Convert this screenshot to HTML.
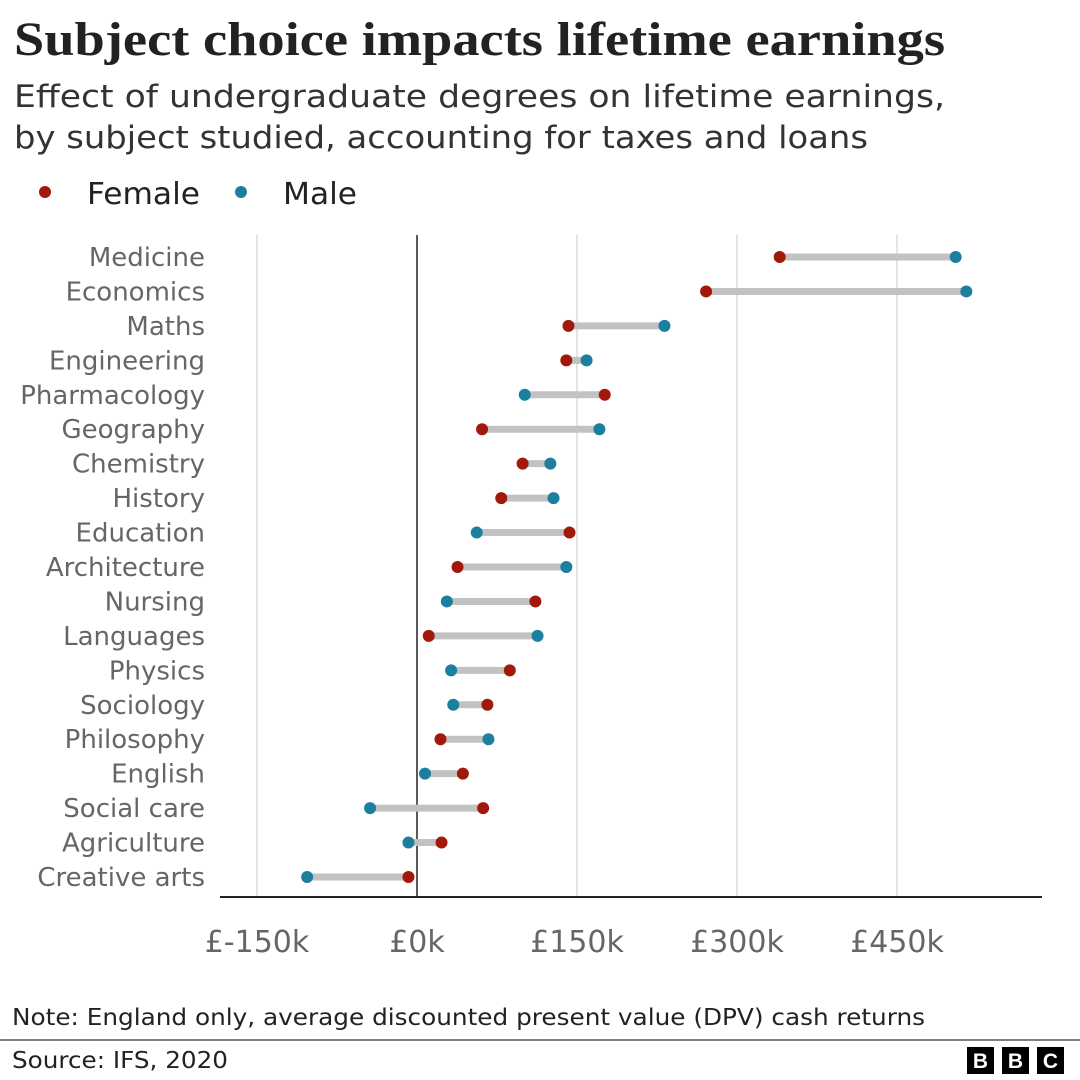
<!DOCTYPE html>
<html><head><meta charset="utf-8">
<style>
body{margin:0;width:1080px;height:1080px;background:#fff;overflow:hidden;font-family:"DejaVu Sans","Liberation Sans",sans-serif;}
svg{display:block}
</style></head>
<body>
<svg width="1080" height="1080" xmlns="http://www.w3.org/2000/svg">
<text x="14" y="55" font-family="Liberation Serif,serif" font-weight="bold" font-size="48" fill="#222" textLength="931" lengthAdjust="spacingAndGlyphs">Subject choice impacts lifetime earnings</text>
<text x="14" y="107" font-size="31" fill="#333" textLength="931" lengthAdjust="spacingAndGlyphs">Effect of undergraduate degrees on lifetime earnings,</text>
<text x="14" y="148" font-size="31" fill="#333" textLength="854" lengthAdjust="spacingAndGlyphs">by subject studied, accounting for taxes and loans</text>
<g>
<circle cx="45" cy="192" r="6" fill="#a2190b"/>
<text x="87" y="204" font-size="30" fill="#222" textLength="113" lengthAdjust="spacingAndGlyphs">Female</text>
<circle cx="241" cy="192" r="6" fill="#1c7fa0"/>
<text x="283" y="204" font-size="30" fill="#222" textLength="74" lengthAdjust="spacingAndGlyphs">Male</text>
</g>
<g id="plot"></g>
<text x="12" y="1025" font-size="23" fill="#222" textLength="913" lengthAdjust="spacingAndGlyphs">Note: England only, average discounted present value (DPV) cash returns</text>
<line x1="0" y1="1040" x2="1080" y2="1040" stroke="#555" stroke-width="1.5"/>
<text x="12" y="1068" font-size="23" fill="#222" textLength="216" lengthAdjust="spacingAndGlyphs">Source: IFS, 2020</text>
<g font-family="Liberation Sans,sans-serif" font-weight="bold" font-size="21" fill="#fff" text-anchor="middle">
<rect x="967" y="1047" width="27" height="27" fill="#000"/><text x="980.5" y="1068">B</text>
<rect x="1002" y="1047" width="27" height="27" fill="#000"/><text x="1015.5" y="1068">B</text>
<rect x="1037" y="1047" width="27" height="27" fill="#000"/><text x="1050.5" y="1068">C</text>
</g>
</svg>
<script>
const categories=["Medicine","Economics","Maths","Engineering","Pharmacology","Geography","Chemistry","History","Education","Architecture","Nursing","Languages","Physics","Sociology","Philosophy","English","Social care","Agriculture","Creative arts"];
const femaleValues=[340,271,142,140,176,61,99,79,143,38,111,11,87,66,22,43,62,23,-8];
const maleValues=[505,515,232,159,101,171,125,128,56,140,28,113,32,34,67,7.5,-44,-8,-103];
const tickValues=[-150,0,150,300,450];
const tickLabels=["£-150k","£0k","£150k","£300k","£450k"];
const NS="http://www.w3.org/2000/svg";
const g=document.getElementById('plot');
const x=v=>417+v*160/150;
const y=i=>257+i*(620/18);
function mk(t,a,p){const e=document.createElementNS(NS,t);for(const k in a)e.setAttribute(k,a[k]);(p||g).appendChild(e);return e;}
tickValues.forEach((v,i)=>{
 if(v!==0){const l=mk('line',{x1:x(v),x2:x(v),y1:235,y2:897,stroke:'#c8c8c8','stroke-width':1});
 
 }
 const t=mk('text',{x:x(v),y:952,'text-anchor':'middle','font-size':30,fill:'#666'});t.textContent=tickLabels[i];
 
 
});
const z=mk('line',{x1:x(0),x2:x(0),y1:235,y2:897,stroke:'#222','stroke-width':1.5});


const ax=mk('line',{x1:220,x2:1042,y1:897,y2:897,stroke:'#222','stroke-width':2});


categories.forEach((c,i)=>{
 const t=mk('text',{x:205,y:y(i)+9,'text-anchor':'end','font-size':26,fill:'#666'});t.textContent=c;
 
 
 const b=mk('line',{x1:x(femaleValues[i]),x2:x(maleValues[i]),y1:y(i),y2:y(i),stroke:'#c2c2c2','stroke-width':7});
 
 
 const f=mk('circle',{cx:x(femaleValues[i]),cy:y(i),r:6,fill:'#a2190b'});
 
 
 const m=mk('circle',{cx:x(maleValues[i]),cy:y(i),r:6,fill:'#1c7fa0'});
 
 
});
</script>
</body></html>
